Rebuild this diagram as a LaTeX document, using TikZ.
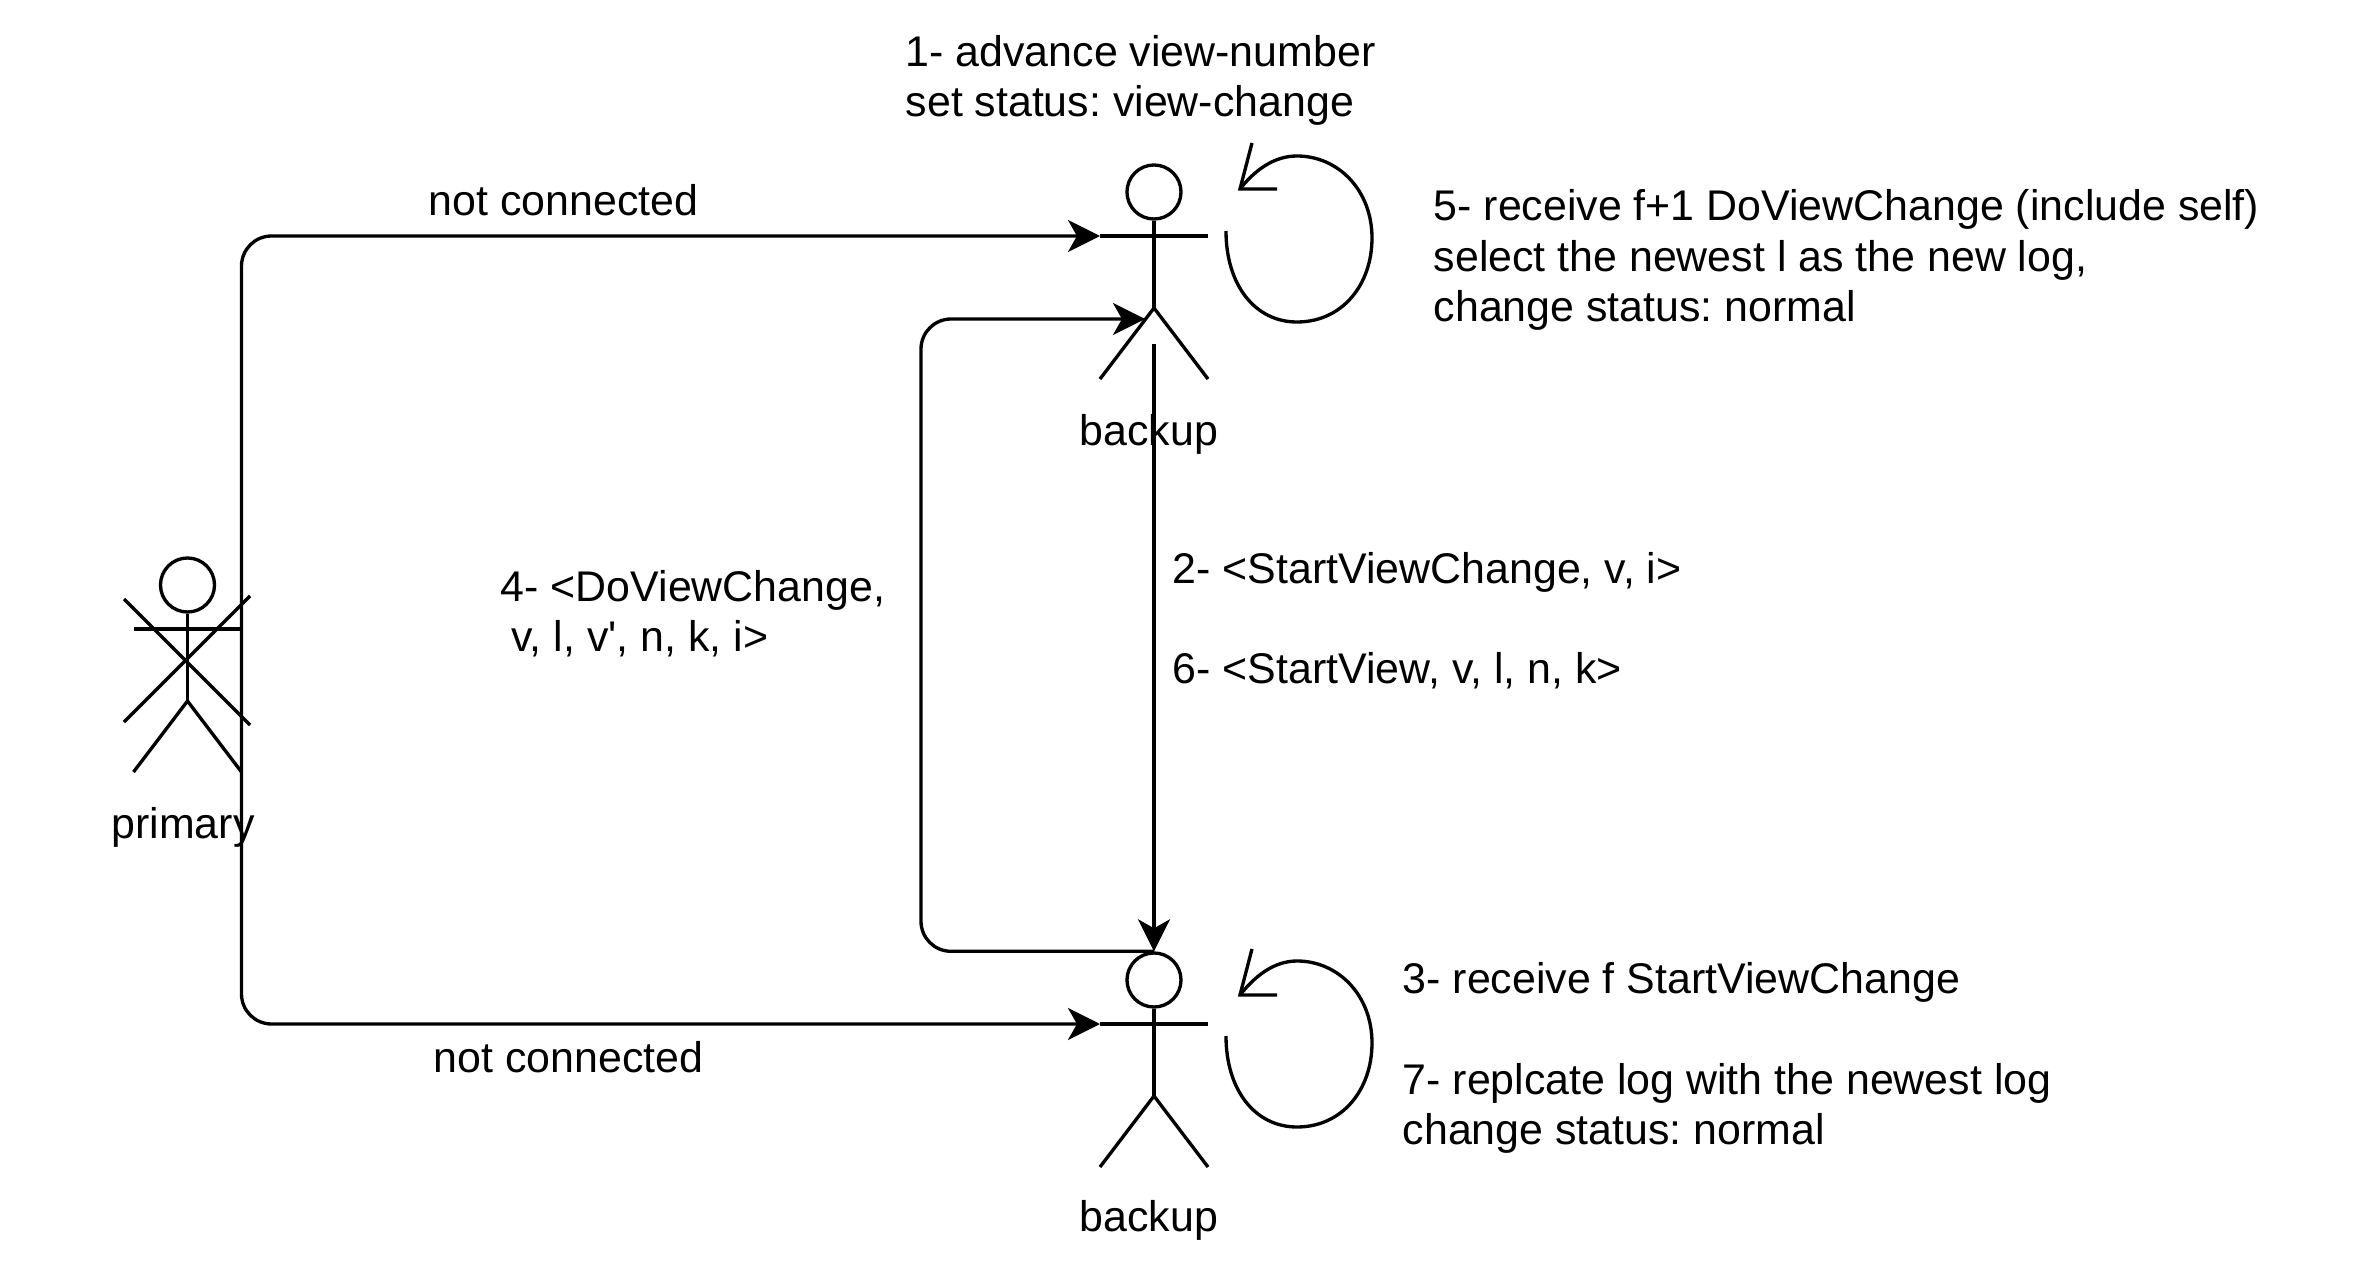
\documentclass[tikz,border=0pt]{standalone}
\usepackage{fontspec}
\setmainfont{Liberation Sans}
\usepackage{tikz}
\usetikzlibrary{arrows.meta}
\frenchspacing

\tikzset{
  lbl/.style={anchor=west, align=left, inner sep=0pt, font=\fontsize{12.2}{14.25}\selectfont},
  actorlbl/.style={anchor=center, inner sep=0pt, font=\fontsize{12.2}{14.25}\selectfont},
  figline/.style={line width=0.95pt},
  headnode/.style={draw, circle, line width=0.95pt, minimum size=0.54cm, inner sep=0pt},
  flow/.style={line width=0.95pt, rounded corners=0.3cm, -{Stealth[length=0.32cm, width=0.32cm, inset=0.09cm]}},
  selfloop/.style={line width=0.95pt, line join=miter}
}

% head at #2,#3, arms, body and legs hang from it
\newcommand{\stickman}[3]{
  \begin{scope}[shift={(#2,#3)}]
    \node[headnode] (#1head) at (0,0) {};
    \coordinate (#1arml) at (-54,44);
    \coordinate (#1armr) at (54,44);
    \coordinate (#1hip) at (0,116);
    \draw[figline] (#1arml) -- (#1armr);
    \draw[figline] (#1head.south) -- (#1hip);
    \draw[figline] (-54,187) -- (#1hip) -- (54,187);
  \end{scope}
}

\begin{document}
\begin{tikzpicture}[x=0.01cm, y=-0.01cm]
  \useasboundingbox (0,0) rectangle (2356,1282);

  % Actors
  \stickman{primary}{187.5}{585}
  \stickman{backupa}{1154}{192}
  \stickman{backupb}{1154}{980}
  \draw[figline] (124,599) -- (250,725) (124,722) -- (250,596);

  % Actor names
  \node[actorlbl] (primaryname) at (183,827) {primary};
  \node[actorlbl] (backupaname) at (1149,434) {backup};
  \node[actorlbl] (backupbname) at (1149,1220) {backup};

  % Messages
  \coordinate (msgstart) at (1154,344);
  \coordinate (turnleft) at (921,319);
  \coordinate (legin) at (1145,319);
  \draw[flow] (primaryarmr) |- (backupaarml);
  \draw[flow] (primaryarmr) |- (backupbarml);
  \draw[flow] (msgstart) -- (backupbhead.north);
  \draw[flow] (backupbhead.north) -| (turnleft) -- (legin);

  % Self loops
  \coordinate (loopastart) at (1226,231);
  \coordinate (loopaend) at (1240,189);
  \coordinate (loopbstart) at (1226,1036);
  \coordinate (loopbend) at (1240,995);
  \draw[selfloop] (loopastart) .. controls (1226,285) and (1255,322) .. (1297,322)
    .. controls (1342,322) and (1372,285) .. (1372,238)
    .. controls (1372,190) and (1338,156) .. (1297,156)
    .. controls (1274,156) and (1255,170) .. (loopaend);
  \draw[selfloop] (1252,143) -- (loopaend) -- (1277,189);
  \draw[selfloop] (loopbstart) .. controls (1226,1090) and (1255,1127) .. (1297,1127)
    .. controls (1342,1127) and (1372,1090) .. (1372,1043)
    .. controls (1372,995) and (1338,961) .. (1297,961)
    .. controls (1274,961) and (1255,976) .. (loopbend);
  \draw[selfloop] (1252,949) -- (loopbend) -- (1277,995);

  % Labels
  \node[lbl] (stepone) at (905,80) {1- advance view-number\\set status: view-change};
  \node[lbl] (stepfive) at (1433,260) {5- receive f+1 DoViewChange (include self)\\select the newest l as the new log,\\change status: normal};
  \node[lbl] (notconna) at (428,200) {not connected};
  \node[lbl] (notconnb) at (433,1057) {not connected};
  \node[lbl] (stepfour) at (500,614) {4- <DoViewChange,\\\hspace*{0.11cm}v, l, v\textquotesingle, n, k, i>};
  \node[lbl] (steptwo) at (1172,621) {2- <StartViewChange, v, i>\\[14.25pt]6- <StartView, v, l, n, k>};
  \node[lbl] (stepthree) at (1402,1058) {3- receive f StartViewChange\\[14.25pt]7- replcate log with the newest log\\change status: normal};
\end{tikzpicture}
\end{document}
